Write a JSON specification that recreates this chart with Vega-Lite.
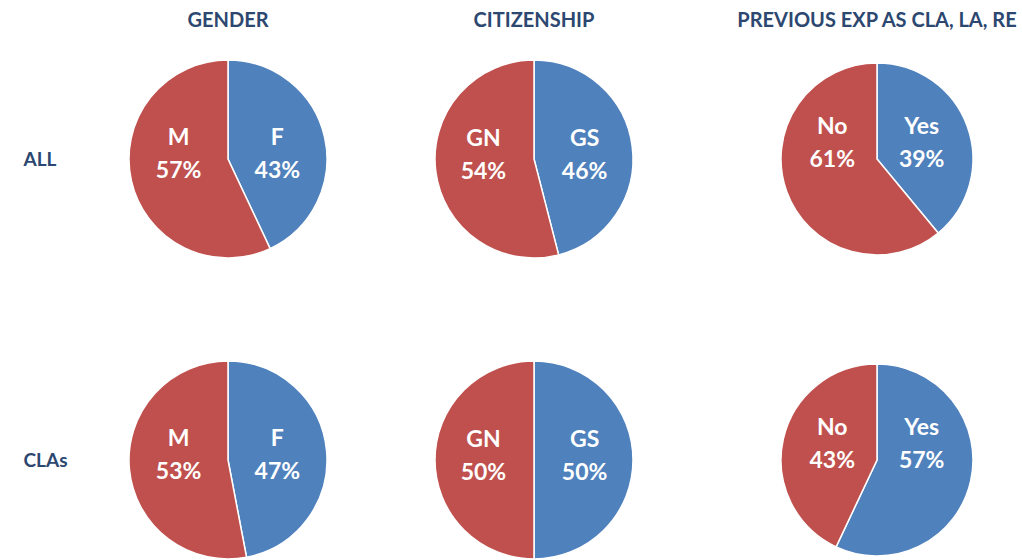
{
  "$schema": "https://vega.github.io/schema/vega-lite/v6.json",
  "padding": {"left": 23, "top": 11, "right": 0, "bottom": 0},
  "spacing": 0,
  "data": {
    "values": [
      {"group": "ALL", "topic": "GENDER", "answer": "F", "pct": 43, "k": 1},
      {"group": "ALL", "topic": "GENDER", "answer": "M", "pct": 57, "k": 2},
      {"group": "ALL", "topic": "CITIZENSHIP", "answer": "GS", "pct": 46, "k": 1},
      {"group": "ALL", "topic": "CITIZENSHIP", "answer": "GN", "pct": 54, "k": 2},
      {"group": "ALL", "topic": "PREV", "answer": "Yes", "pct": 39, "k": 1},
      {"group": "ALL", "topic": "PREV", "answer": "No", "pct": 61, "k": 2},
      {"group": "CLAs", "topic": "GENDER", "answer": "F", "pct": 47, "k": 1},
      {"group": "CLAs", "topic": "GENDER", "answer": "M", "pct": 53, "k": 2},
      {"group": "CLAs", "topic": "CITIZENSHIP", "answer": "GS", "pct": 50, "k": 1},
      {"group": "CLAs", "topic": "CITIZENSHIP", "answer": "GN", "pct": 50, "k": 2},
      {"group": "CLAs", "topic": "PREV", "answer": "Yes", "pct": 57, "k": 1},
      {"group": "CLAs", "topic": "PREV", "answer": "No", "pct": 43, "k": 2}
    ]
  },
  "config": {
    "view": {"stroke": null},
    "concat": {"spacing": 0},
    "title": {"font": "Lato", "fontSize": 20, "fontWeight": "bold", "color": "#2C4770", "offset": 14, "anchor": "middle", "frame": "group"}
  },
  "hconcat": [
    {
      "width": 216, "height": 500,
      "title": {"text": "GENDER"},
      "transform": [
        {"filter": "datum.topic === 'GENDER'"},
        {"stack": "pct", "groupby": ["group"], "sort": [{"field": "k", "order": "ascending"}], "as": ["t0", "t1"]},
        {"calculate": "datum.k === 1 ? 22.5 : 77.5", "as": "la"},
        {"calculate": "datum.answer + '\\n' + datum.pct + '%'", "as": "lbl"}
      ],
      "encoding": {
        "y": {"field": "group", "type": "nominal", "scale": {"domain": ["ALL", "CLAs"], "range": [114, 415], "padding": 0},
          "axis": {"title": null, "domain": false, "ticks": false, "tickSize": 0, "labelPadding": 97, "labelAlign": "left", "labelBaseline": "middle", "labelFont": "Lato", "labelFontWeight": "bold", "labelFontSize": 19, "labelColor": "#2C4770", "labelAngle": 0}}
      },
      "layer": [
        {"mark": {"type": "arc", "outerRadius": 99, "stroke": "white", "strokeWidth": 1.5},
         "encoding": {
           "theta": {"field": "t0", "type": "quantitative", "scale": {"domain": [0, 100]}},
           "theta2": {"field": "t1"},
           "color": {"field": "answer", "type": "nominal", "legend": null,
             "scale": {"domain": ["F", "GS", "Yes", "M", "GN", "No"], "range": ["#4F81BD", "#4F81BD", "#4F81BD", "#C0504D", "#C0504D", "#C0504D"]}}
         }},
        {"mark": {"type": "text", "radius": 50, "dy": -13, "fill": "white", "font": "Lato", "fontWeight": "bold", "fontSize": 23, "lineBreak": "\n", "lineHeight": 33},
         "encoding": {
           "theta": {"field": "la", "type": "quantitative", "scale": {"domain": [0, 100]}},
           "text": {"field": "lbl", "type": "nominal"}
         }}
      ]
    },
    {
      "width": 396, "height": 500,
      "title": {"text": "CITIZENSHIP"},
      "transform": [
        {"filter": "datum.topic === 'CITIZENSHIP'"},
        {"stack": "pct", "groupby": ["group"], "sort": [{"field": "k", "order": "ascending"}], "as": ["t0", "t1"]},
        {"calculate": "datum.k === 1 ? 23 : 77", "as": "la"},
        {"calculate": "datum.answer + '\\n' + datum.pct + '%'", "as": "lbl"}
      ],
      "encoding": {
        "y": {"field": "group", "type": "nominal", "scale": {"domain": ["ALL", "CLAs"], "range": [114, 415], "padding": 0}, "axis": null}
      },
      "layer": [
        {"mark": {"type": "arc", "outerRadius": 99, "stroke": "white", "strokeWidth": 1.5},
         "encoding": {
           "theta": {"field": "t0", "type": "quantitative", "scale": {"domain": [0, 100]}},
           "theta2": {"field": "t1"},
           "color": {"field": "answer", "type": "nominal", "legend": null,
             "scale": {"domain": ["F", "GS", "Yes", "M", "GN", "No"], "range": ["#4F81BD", "#4F81BD", "#4F81BD", "#C0504D", "#C0504D", "#C0504D"]}}
         }},
        {"mark": {"type": "text", "radius": 51, "dy": -14, "fill": "white", "font": "Lato", "fontWeight": "bold", "fontSize": 23, "lineBreak": "\n", "lineHeight": 33},
         "encoding": {
           "theta": {"field": "la", "type": "quantitative", "scale": {"domain": [0, 100]}},
           "text": {"field": "lbl", "type": "nominal"}
         }}
      ]
    },
    {
      "width": 290, "height": 500,
      "title": {"text": "PREVIOUS EXP AS CLA, LA, RE"},
      "transform": [
        {"filter": "datum.topic === 'PREV'"},
        {"stack": "pct", "groupby": ["group"], "sort": [{"field": "k", "order": "ascending"}], "as": ["t0", "t1"]},
        {"calculate": "datum.k === 1 ? 20 : 80", "as": "la"},
        {"calculate": "datum.answer + '\\n' + datum.pct + '%'", "as": "lbl"}
      ],
      "encoding": {
        "y": {"field": "group", "type": "nominal", "scale": {"domain": ["ALL", "CLAs"], "range": [114, 415], "padding": 0}, "axis": null}
      },
      "layer": [
        {"mark": {"type": "arc", "outerRadius": 96, "stroke": "white", "strokeWidth": 1.5},
         "encoding": {
           "theta": {"field": "t0", "type": "quantitative", "scale": {"domain": [0, 100]}},
           "theta2": {"field": "t1"},
           "color": {"field": "answer", "type": "nominal", "legend": null,
             "scale": {"domain": ["F", "GS", "Yes", "M", "GN", "No"], "range": ["#4F81BD", "#4F81BD", "#4F81BD", "#C0504D", "#C0504D", "#C0504D"]}}
         }},
        {"mark": {"type": "text", "radius": 47, "dy": -17, "fill": "white", "font": "Lato", "fontWeight": "bold", "fontSize": 23, "lineBreak": "\n", "lineHeight": 33},
         "encoding": {
           "theta": {"field": "la", "type": "quantitative", "scale": {"domain": [0, 100]}},
           "text": {"field": "lbl", "type": "nominal"}
         }}
      ]
    }
  ]
}
